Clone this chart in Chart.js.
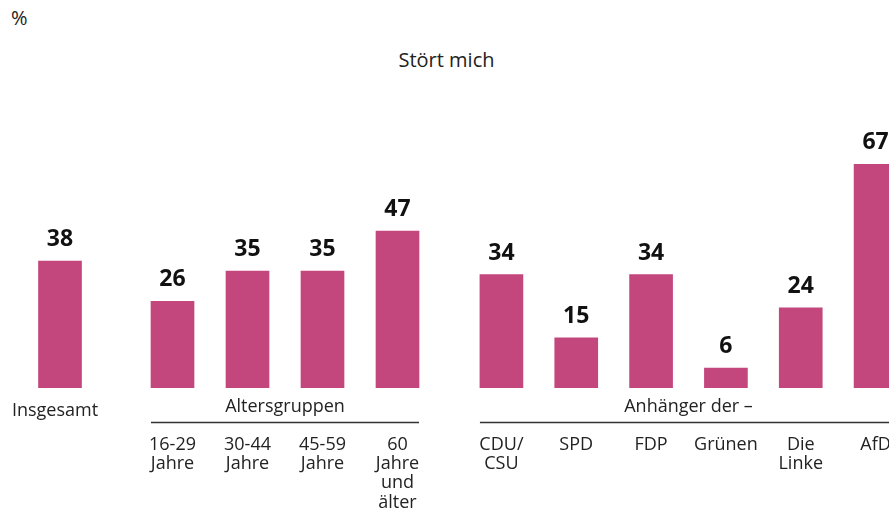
<!DOCTYPE html>
<html lang="de">
<head>
<meta charset="utf-8">
<script src="https://cdn.jsdelivr.net/npm/chart.js@4/dist/chart.umd.min.js"></script>
<style>
  html, body { margin: 0; padding: 0; background: #fff; overflow: hidden; width: 889px; height: 511px; }
  body { position: relative; font-family: "Open Sans", sans-serif; color: #222; }
  .texto { position: absolute; font-size: 18px; line-height: 18px; white-space: nowrap; }
  canvas { position: absolute; top: 0; }
</style>
</head>
<body>
<div class="texto" style="left:11px; top:9px; font-size:20px;">%</div>
<div class="texto" style="left:2px; top:51px; width:889px; text-align:center; font-size:20px;">Stört mich</div>

<canvas id="graficoTotal" width="120" height="511" style="left:0px"></canvas>
<canvas id="graficoEdad" width="300" height="511" style="left:135px"></canvas>
<canvas id="graficoPartidos" width="449" height="511" style="left:464px"></canvas>

<script>
// datos (%)
const etiquetasTotal = ["Insgesamt"]
const valoresTotal = [38]

const tituloEdad = "Altersgruppen"
const etiquetasEdad = [["16-29", "Jahre"], ["30-44", "Jahre"], ["45-59", "Jahre"], ["60", "Jahre", "und", "älter"]]
const valoresEdad = [26, 35, 35, 47]

const tituloPartidos = "Anhänger der –"
const etiquetasPartidos = [["CDU/", "CSU"], "SPD", "FDP", "Grünen", ["Die", "Linke"], "AfD"]
const valoresPartidos = [34, 15, 34, 6, 24, 67]

const colorBarra = "#c3467d"
const fuente = "'Open Sans', sans-serif"

// numero encima de cada barra
const etiquetasValores = {
  id: "etiquetasValores",
  afterDatasetsDraw(chart) {
    const ctx = chart.ctx
    const meta = chart.getDatasetMeta(0)
    const valores = chart.data.datasets[0].data
    ctx.save()
    ctx.font = `bold 23px ${fuente}`
    ctx.fillStyle = "#111"
    ctx.textAlign = "center"
    ctx.textBaseline = "alphabetic"
    meta.data.forEach((barra, i) => {
      ctx.fillText(valores[i], barra.x, barra.y - 15)
    })
    ctx.restore()
  }
}

// titulo del grupo con la linea debajo
const tituloGrupo = {
  id: "tituloGrupo",
  afterDraw(chart, args, opts) {
    if (!opts.texto) return
    const ctx = chart.ctx
    const barras = chart.getDatasetMeta(0).data
    const izq = barras[0].x - barras[0].width / 2
    const der = barras[barras.length - 1].x + barras[barras.length - 1].width / 2
    ctx.save()
    ctx.strokeStyle = "#333"
    ctx.lineWidth = 1.3
    ctx.beginPath()
    ctx.moveTo(izq, 422.5)
    ctx.lineTo(der, 422.5)
    ctx.stroke()
    ctx.font = `18px ${fuente}`
    ctx.fillStyle = "#222"
    ctx.textAlign = "center"
    ctx.textBaseline = "alphabetic"
    ctx.fillText(opts.texto, (izq + der) / 2, 412)
    ctx.restore()
  }
}

const crearGrafico = (id, etiquetas, valores, titulo, separacion, desplazamiento = 0) => {
  return new Chart(document.getElementById(id), {
    type: "bar",
    data: {
      labels: etiquetas,
      datasets: [{
        data: valores,
        backgroundColor: colorBarra,
        barThickness: 43
      }]
    },
    options: {
      responsive: false,
      animation: false,
      layout: { padding: { top: 121, left: 0, right: 0, bottom: 0 } },
      plugins: {
        legend: { display: false },
        tooltip: { enabled: false },
        tituloGrupo: { texto: titulo }
      },
      scales: {
        y: { display: false, min: 0, max: 80 },
        x: {
          grid: { display: false, drawTicks: false },
          border: { display: false },
          ticks: {
            padding: separacion,
            labelOffset: desplazamiento,
            color: "#222",
            autoSkip: false,
            maxRotation: 0,
            font: { family: fuente, size: 18, lineHeight: 1.07 }
          },
          afterFit: (escala) => {
            escala.height = 123 // base de barras en y=388
            escala.paddingLeft = 0 // que no achique el area por las etiquetas
            escala.paddingRight = 0
          }
        }
      }
    },
    plugins: [etiquetasValores, tituloGrupo]
  })
}

crearGrafico("graficoTotal", etiquetasTotal, valoresTotal, null, 13, -5)
crearGrafico("graficoEdad", etiquetasEdad, valoresEdad, tituloEdad, 47)
crearGrafico("graficoPartidos", etiquetasPartidos, valoresPartidos, tituloPartidos, 47)
</script>
</body>
</html>
